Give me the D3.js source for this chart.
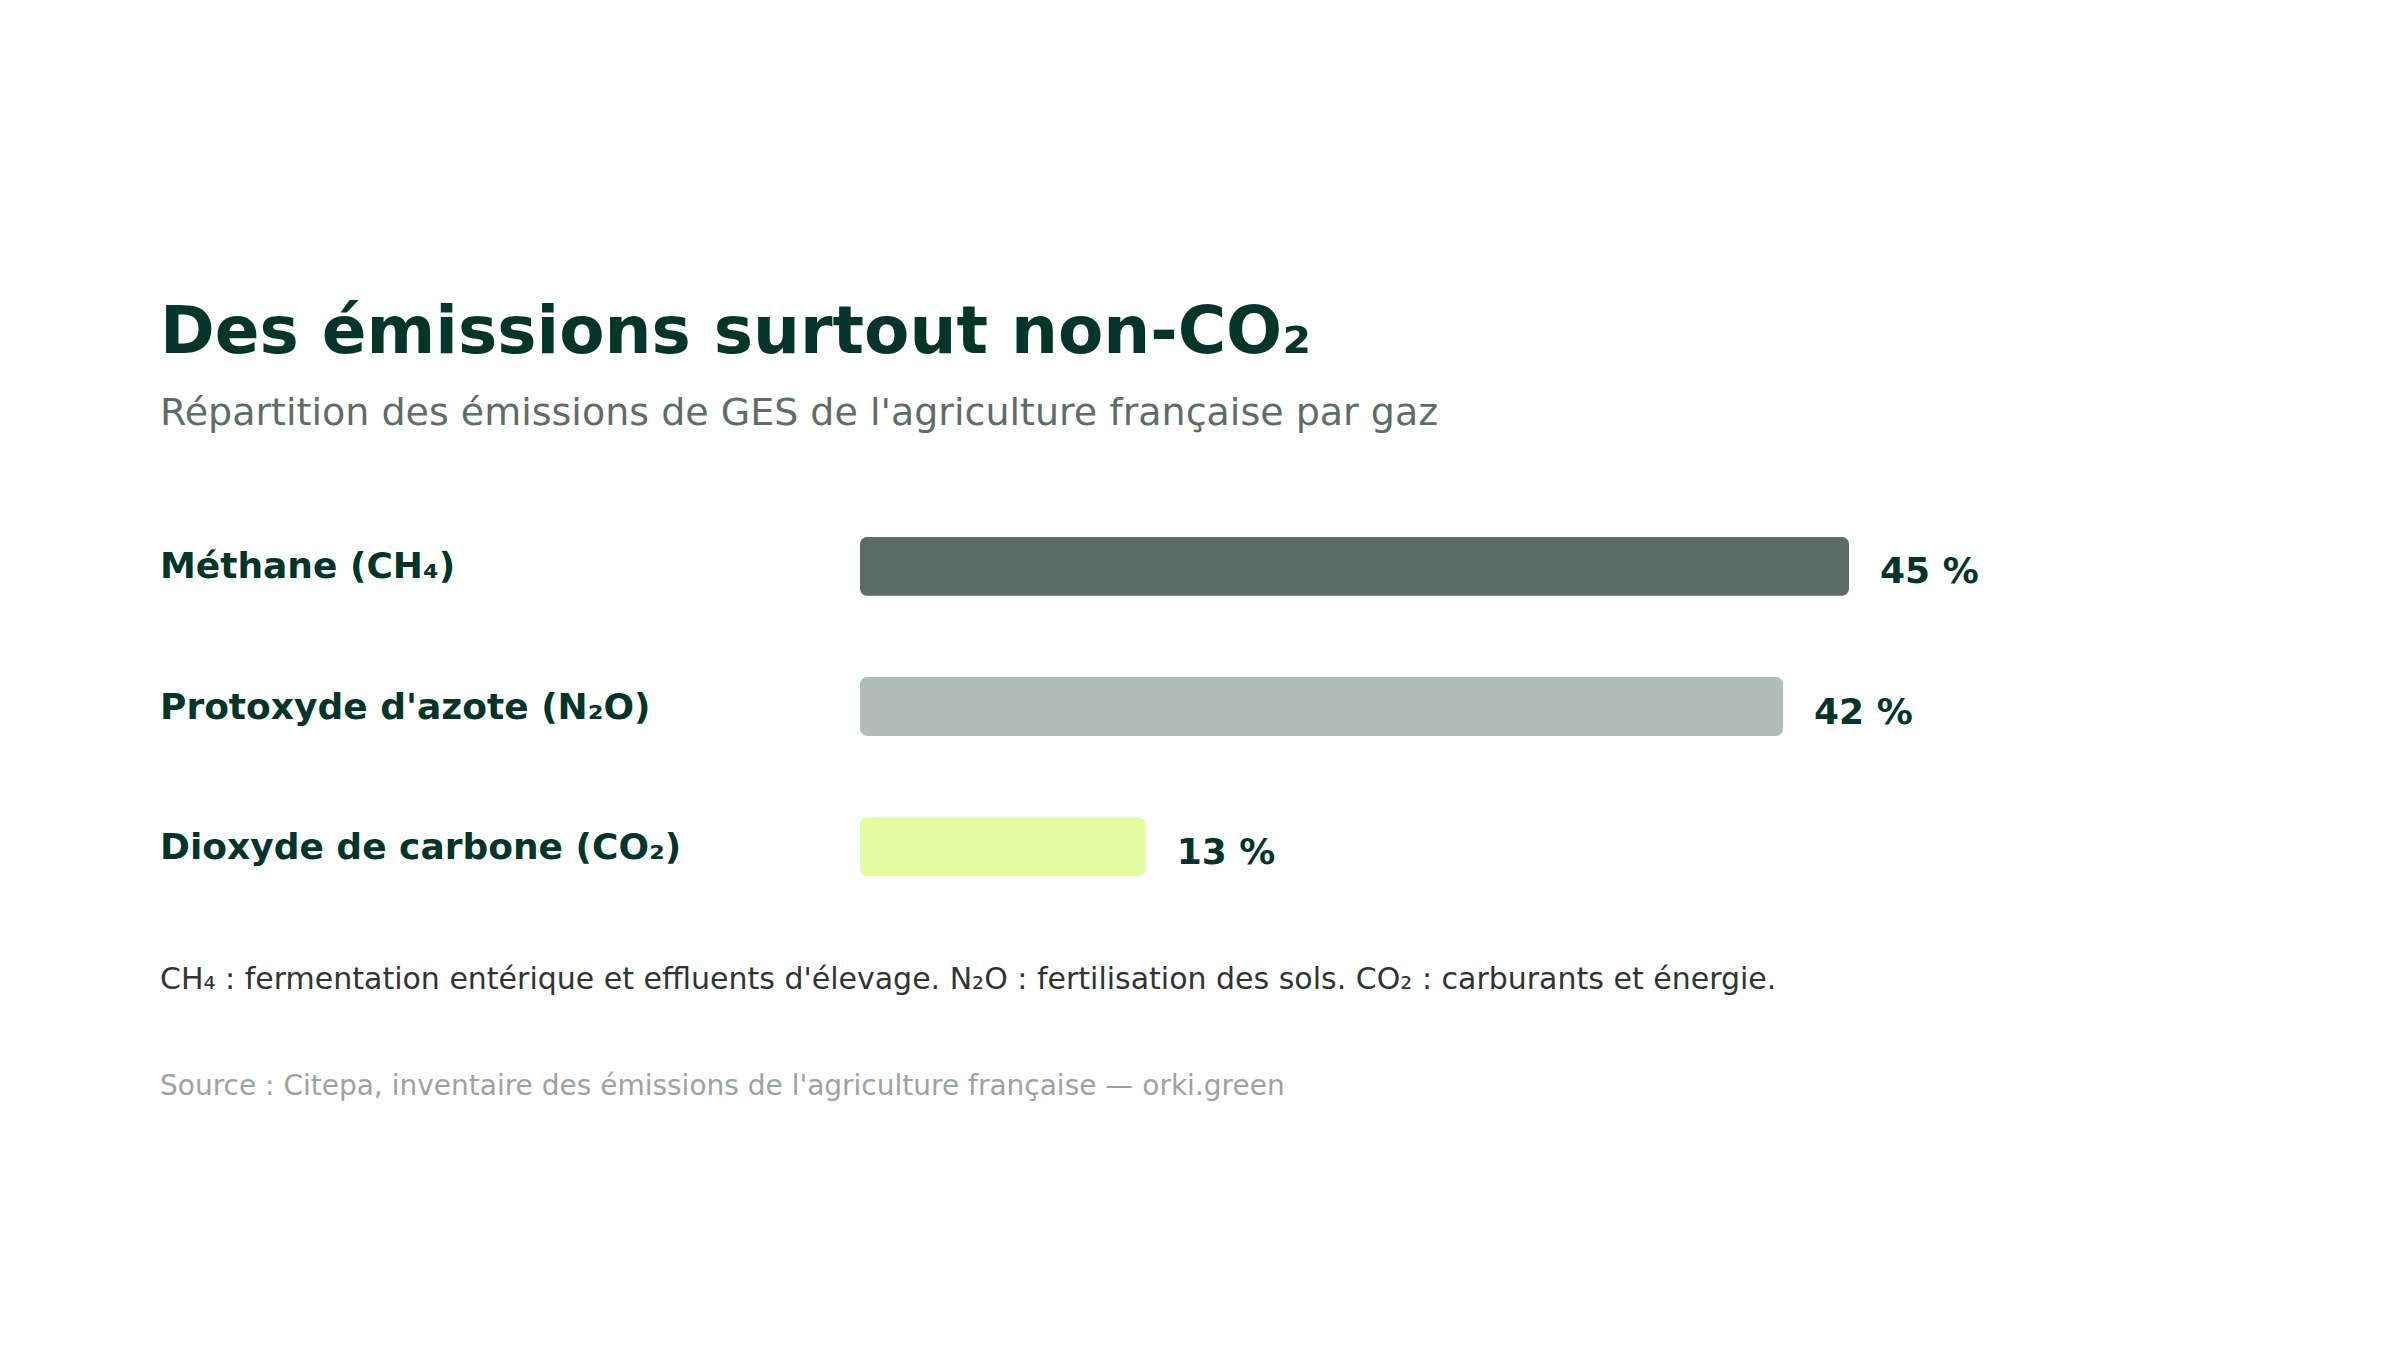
<html>

<head>
    <meta charset="utf-8">
    <title>Émissions agricoles par gaz</title>
    <script src="https://d3js.org/d3.v7.min.js"></script>
    <style>
        body { margin: 0; background: #fff; }
        text { font-family: "DejaVu Sans", sans-serif; }
    </style>
</head>

<body>
    <script>
        // data
        const gases = ['Méthane (CH₄)', 'Protoxyde d\'azote (N₂O)', 'Dioxyde de carbone (CO₂)']
        const shares = [45, 42, 13]
        const barColors = ['#5b6b65', '#afbeb8', '#e4fda2']

        const width = 2400, height = 1350
        const ink = '#03352a'

        const svg = d3.select('body').append('svg')
            .attr('width', width)
            .attr('height', height)

        svg.append('text')
            .attr('x', 160)
            .attr('y', 353)
            .attr('fill', ink)
            .attr('font-size', 66)
            .attr('font-weight', 'bold')
            .text('Des émissions surtout non-CO₂')

        svg.append('text')
            .attr('x', 160)
            .attr('y', 425)
            .attr('fill', '#5f6d68')
            .attr('font-size', 38)
            .text('Répartition des émissions de GES de l\'agriculture française par gaz')

        const x = d3.scaleLinear()
            .domain([0, 45])
            .range([860, 1849])

        const y = d3.scaleBand()
            .domain(gases)
            .range([537, 876])
            .paddingInner(0.58)
            .paddingOuter(0)

        const rows = svg.selectAll('g.row')
            .data(gases)
            .enter()
                .append('g')
                .attr('class', 'row')

        rows.append('text')
            .attr('x', 160)
            .attr('y', d => y(d) + y.bandwidth() / 2 + 12)
            .attr('fill', ink)
            .attr('font-size', 36)
            .attr('font-weight', 'bold')
            .text(d => d)

        rows.append('rect')
            .attr('x', x(0))
            .attr('y', d => y(d))
            .attr('width', (d, i) => x(shares[i]) - x(0))
            .attr('height', y.bandwidth())
            .attr('rx', 7)
            .attr('fill', (d, i) => barColors[i])

        rows.append('text')
            .attr('x', (d, i) => x(shares[i]) + 31)
            .attr('y', d => y(d) + y.bandwidth() / 2 + 17)
            .attr('fill', ink)
            .attr('font-size', 36)
            .attr('font-weight', 'bold')
            .text((d, i) => shares[i] + ' %')

        svg.append('text')
            .attr('x', 160)
            .attr('y', 989)
            .attr('fill', '#2f3532')
            .attr('font-size', 30)
            .text('CH₄ : fermentation entérique et effluents d\'élevage. N₂O : fertilisation des sols. CO₂ : carburants et énergie.')

        svg.append('text')
            .attr('x', 160)
            .attr('y', 1095)
            .attr('fill', '#9ca3a0')
            .attr('font-size', 28)
            .text('Source : Citepa, inventaire des émissions de l\'agriculture française — orki.green')
    </script>
</body>

</html>
